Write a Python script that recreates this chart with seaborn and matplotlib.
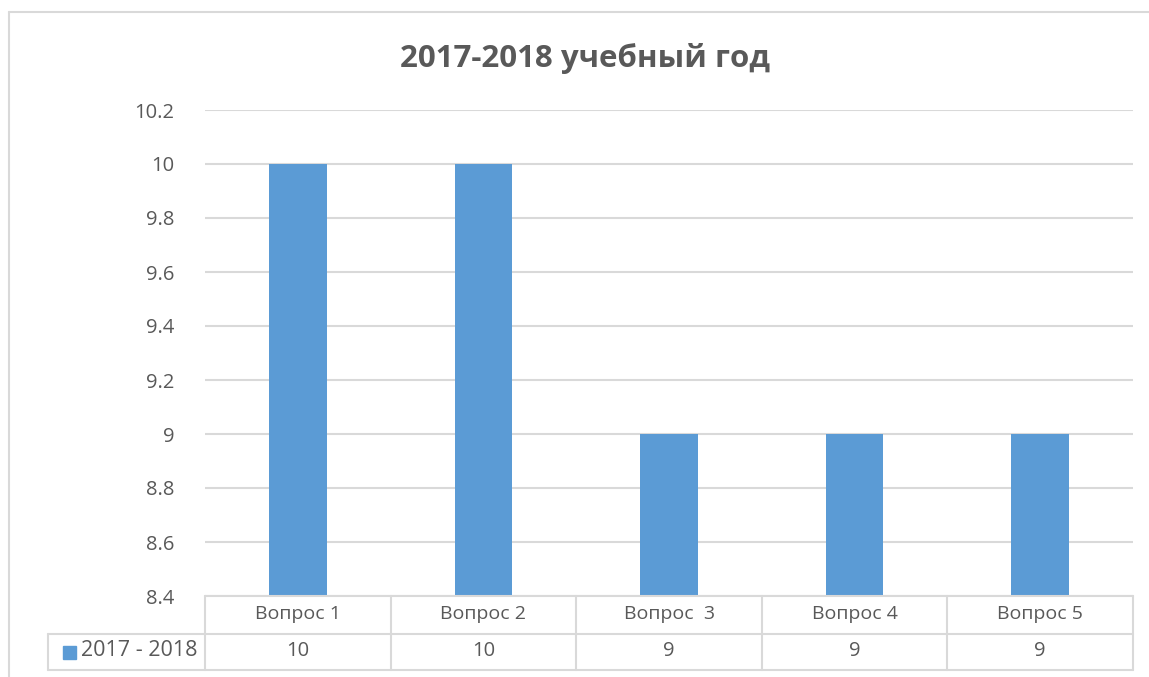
import matplotlib
matplotlib.use("Agg")
import matplotlib.pyplot as plt
import matplotlib.transforms as mtransforms
from matplotlib.patches import Rectangle
from matplotlib.lines import Line2D
import seaborn as sns
import pandas as pd

categories = ["Вопрос 1", "Вопрос 2", "Вопрос  3", "Вопрос 4", "Вопрос 5"]
values = [10, 10, 9, 9, 9]
value_labels = ["10", "10", "9", "9", "9"]
series_name = "2017 - 2018"
title = "2017-2018 учебный год"
yticks = [8.4, 8.6, 8.8, 9.0, 9.2, 9.4, 9.6, 9.8, 10.0, 10.2]
ytick_labels = ["8.4", "8.6", "8.8", "9", "9.2", "9.4", "9.6", "9.8", "10", "10.2"]

sns.set_theme(style="white")
plt.rcParams["font.family"] = ["Open Sans", "DejaVu Sans"]

TXT = "#595959"
GRID = "#d9d9d9"
BAR = "#5B9BD5"

W, H = 1149, 677
fig = plt.figure(figsize=(W / 100, H / 100), dpi=100)
ax = fig.add_axes([205 / W, 1 - 596 / H, (1133 - 205) / W, (596 - 110) / H])

df = pd.DataFrame({"cat": categories, "val": values})
sns.barplot(data=df, x="cat", y="val", color=BAR, saturation=1, width=0.31,
            linewidth=0, edgecolor="none", ax=ax)

ax.set_ylim(8.4, 10.2)
ax.set_xlim(-0.5, len(categories) - 0.5)
ax.set_yticks(yticks)
ax.set_yticklabels(ytick_labels, color=TXT, fontsize=14.5)
ax.tick_params(axis="y", length=0, pad=22)
ax.set_xticks([])
ax.set_xlabel("")
ax.set_ylabel("")
for s in ax.spines.values():
    s.set_visible(False)
ax.yaxis.grid(True, color=GRID, linewidth=1.5)
ax.set_axisbelow(True)

# Title
fig.text(585 / W, 1 - 58 / H, title, ha="center", va="center",
         fontsize=22.5, fontweight="bold", color=TXT)

trans = mtransforms.blended_transform_factory(ax.transData, fig.transFigure)
def fy(py):
    return 1 - py / H

row1_top, row1_bot, row2_bot = 596, 634, 670
left_px = 48
lw = 1.5
n = len(categories)
fig.add_artist(Line2D([-0.5, n - 0.5], [fy(row1_top)] * 2, color=GRID, lw=lw, transform=trans))
for py in (row1_bot, row2_bot):
    fig.add_artist(Line2D([left_px / W, 1133 / W], [fy(py)] * 2, color=GRID, lw=lw, transform=fig.transFigure))
for i in range(n + 1):
    fig.add_artist(Line2D([i - 0.5] * 2, [fy(row1_top), fy(row2_bot)], color=GRID, lw=lw, transform=trans))
fig.add_artist(Line2D([left_px / W] * 2, [fy(row1_bot), fy(row2_bot)], color=GRID, lw=lw, transform=fig.transFigure))

for i, (c, v) in enumerate(zip(categories, value_labels)):
    fig.text(i, fy((row1_top + row1_bot) / 2 - 1), c, ha="center", va="center",
             fontsize=14, color=TXT, transform=trans)
    fig.text(i, fy((row1_bot + row2_bot) / 2 - 1), v, ha="center", va="center",
             fontsize=14.5, color=TXT, transform=trans)

fig.add_artist(Rectangle((63 / W, fy(659)), 13 / W, 13 / H, color=BAR, transform=fig.transFigure))
fig.text(81 / W, fy(651), series_name, ha="left", va="center", fontsize=15.5, color=TXT)

fig.add_artist(Line2D([9 / W, 9 / W], [fy(12), 0], color=GRID, lw=1.5, transform=fig.transFigure))
fig.add_artist(Line2D([9 / W, 1], [fy(12), fy(12)], color=GRID, lw=1.5, transform=fig.transFigure))

fig.savefig("out.png", dpi=100, facecolor="white")
